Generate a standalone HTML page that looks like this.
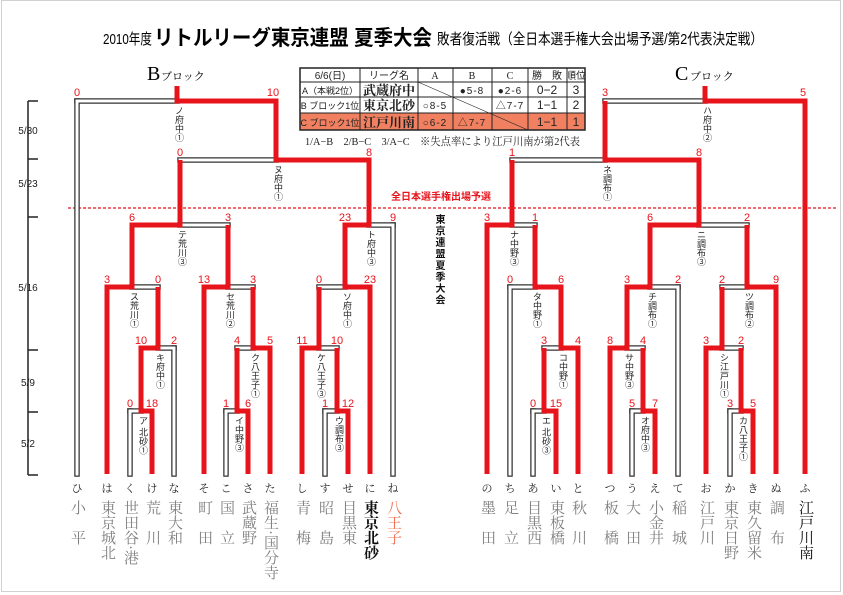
<!DOCTYPE html>
<html><head><meta charset="utf-8"><style>
html,body{margin:0;padding:0;background:#fff}
#w{position:relative;width:843px;height:595px;overflow:hidden;font-family:"Liberation Sans","Noto Sans CJK JP",sans-serif}
.k{position:absolute;top:480px;width:20px;margin-left:-10px;text-align:center;font-size:11px;color:#222;font-family:"Liberation Serif","Noto Serif CJK SC",serif}
.n{position:absolute;top:500px;writing-mode:vertical-rl;font-size:15px;line-height:15px;width:15px;margin-left:-8px;color:#808080;font-family:"Liberation Serif","Noto Serif CJK SC",serif}
.ml{position:absolute;writing-mode:vertical-rl;font-size:9px;line-height:10px;width:10px;margin-left:-3px;color:#222}
</style></head><body><div id="w">
<svg width="843" height="595" style="position:absolute;left:0;top:0" xmlns="http://www.w3.org/2000/svg">
<rect x="1.5" y="0.5" width="839" height="591" fill="none" stroke="#d0d0d0"/>
<text x="103" y="44" font-size="15" textLength="49" lengthAdjust="spacingAndGlyphs" font-family="Liberation Sans,Noto Sans CJK JP,sans-serif">2010年度</text>
<text x="154" y="45" font-size="21" font-weight="bold" textLength="278" lengthAdjust="spacingAndGlyphs" font-family="Liberation Sans,Noto Sans CJK JP,sans-serif">リトルリーグ東京連盟 夏季大会</text>
<text x="437" y="44" font-size="15" textLength="326" lengthAdjust="spacingAndGlyphs" font-family="Liberation Sans,Noto Sans CJK JP,sans-serif">敗者復活戦（全日本選手権大会出場予選/第2代表決定戦）</text>
<text x="147" y="80" font-size="20" font-family="Liberation Serif,serif">B</text><text x="161" y="80" font-size="11" font-family="Noto Serif CJK SC,serif">ブロック</text>
<text x="675" y="80" font-size="20" font-family="Liberation Serif,serif">C</text><text x="690" y="80" font-size="11" font-family="Noto Serif CJK SC,serif">ブロック</text>
<!-- table -->
<rect x="300" y="113" width="285" height="17" fill="#f08060"/>
<g stroke="#222" stroke-width="1" fill="none">
<rect x="300" y="68" width="285" height="62" stroke-width="1.5"/>
<path d="M300 82H585M300 97H585M300 113H585M360 68V130M418 68V130M453 68V130M492 68V130M528 68V130M567 68V130"/>
<path d="M418 82L528 130" stroke-width="0.6"/>
</g>
<g font-size="10" fill="#222" text-anchor="middle" font-family="Liberation Sans,Noto Sans CJK JP,sans-serif">
<text x="330" y="79">6/6(日)</text><text x="389" y="79">リーグ名</text><text x="435" y="79" font-family="Liberation Serif,serif">A</text><text x="472" y="79" font-family="Liberation Serif,serif">B</text><text x="510" y="79" font-family="Liberation Serif,serif">C</text><text x="547" y="79">勝　敗</text><text x="576" y="79">順位</text>
<text x="330" y="94" font-size="9">A（本戦2位）</text><text x="330" y="109" font-size="9">B ブロック1位</text><text x="330" y="126" font-size="9">C ブロック1位</text>
<text x="389" y="95" font-size="13" font-weight="bold" font-family="Noto Serif CJK SC,serif">武蔵府中</text>
<text x="389" y="110" font-size="13" font-weight="bold" font-family="Noto Serif CJK SC,serif">東京北砂</text>
<text x="389" y="127" font-size="13" font-weight="bold" font-family="Noto Serif CJK SC,serif">江戸川南</text>
<text x="472" y="94" letter-spacing="1">●5-8</text><text x="510" y="94" letter-spacing="1">●2-6</text><text x="547" y="94" font-size="12">0−2</text><text x="576" y="94" font-size="12">3</text>
<text x="435" y="109" letter-spacing="1">○8-5</text><text x="510" y="109" letter-spacing="1">△7-7</text><text x="547" y="109" font-size="12">1−1</text><text x="576" y="109" font-size="12">2</text>
<text x="435" y="126" letter-spacing="1">○6-2</text><text x="472" y="126" letter-spacing="1">△7-7</text><text x="547" y="126" font-size="12">1−1</text><text x="576" y="126" font-size="12">1</text>
</g>
<text x="305" y="145" font-size="11" fill="#222" textLength="275" lengthAdjust="spacingAndGlyphs" font-family="Liberation Serif,Noto Serif CJK SC,serif">1/A−B　2/B−C　3/A−C　※失点率により江戸川南が第2代表</text>
<!-- timeline -->
<g stroke="#222" stroke-width="1.5"><path d="M28 101V475M28 101H38M28 159H38M28 217H38M28 350H38M28 412H38M28 475H38"/></g>
<g font-size="10" fill="#222" text-anchor="middle"><text x="28" y="134">5/30</text><text x="28" y="187">5/23</text><text x="28" y="291">5/16</text><text x="28" y="386">5/9</text><text x="28" y="447">5/2</text></g>
<!-- dashed -->
<path d="M68 208H838" stroke="#e8141c" stroke-width="1.2" stroke-dasharray="3,2"/>
<text x="441" y="200" font-size="10" font-weight="bold" fill="#e8141c" text-anchor="middle">全日本選手権出場予選</text>
<!-- loser lines -->
<defs><g id="wl">
<path d="M77 101V474M130 411V474M174 348V474M226 411V474M325 411V474M393 225V474M510 287V474M533 411V474M632 411V474M678 287V474M730 411V474"/>
<path d="M130 411H141M158 348H174M132 287H158M226 411H237M237 348H253M228 287H253M180 225H228M325 411H337M319 348H337M319 287H345M369 225H393M180 160H276M77 101H177"/>
<path d="M533 411H544M544 348H561M510 287H535M512 225H535M632 411H643M627 348H643M650 287H678M730 411H741M722 348H741M722 287H747M699 225H747M512 160H605M605 101H705"/>
</g></defs>
<use href="#wl" stroke="#333" stroke-width="5.5" fill="none" stroke-linecap="square"/>
<use href="#wl" stroke="#fff" stroke-width="3" fill="none" stroke-linecap="square"/>
<!-- winner lines -->
<g stroke="#e8141c" stroke-width="5" fill="none" stroke-linejoin="miter">
<path d="M152 474V411H141V348H158V287"/>
<path d="M107 474V287H132V225H180V160"/>
<path d="M248 474V411H237V348"/>
<path d="M270 474V348H253V287"/>
<path d="M204 474V287H228V225"/>
<path d="M348 474V411H337V348"/>
<path d="M302 474V348H319V287"/>
<path d="M370 474V287H345V225H369V160H276V101H177V86"/>
<path d="M556 474V411H544V348"/>
<path d="M578 474V348H561V287H535V225"/>
<path d="M487 474V225H512V160"/>
<path d="M655 474V411H643V348"/>
<path d="M610 474V348H627V287H650V225H699V160H605V101"/>
<path d="M753 474V411H741V348"/>
<path d="M706 474V348H722V287"/>
<path d="M776 474V287H747V225"/>
<path d="M805 474V101H705V86"/>
</g>
<!-- scores -->
<g font-size="11" fill="#e8141c" text-anchor="middle">
<text x="130" y="407">0</text><text x="152" y="407">18</text>
<text x="141" y="344">10</text><text x="174" y="344">2</text>
<text x="107" y="283">3</text><text x="158" y="283">0</text>
<text x="226" y="407">1</text><text x="248" y="407">6</text>
<text x="237" y="344">4</text><text x="270" y="344">5</text>
<text x="204" y="283">13</text><text x="253" y="283">3</text>
<text x="132" y="221">6</text><text x="228" y="221">3</text>
<text x="325" y="407">1</text><text x="348" y="407">12</text>
<text x="302" y="344">11</text><text x="337" y="344">10</text>
<text x="319" y="283">0</text><text x="370" y="283">23</text>
<text x="345" y="221">23</text><text x="393" y="221">9</text>
<text x="180" y="156">0</text><text x="369" y="156">8</text>
<text x="77" y="96">0</text><text x="273" y="96">10</text>
<text x="533" y="407">0</text><text x="556" y="407">15</text>
<text x="544" y="344">3</text><text x="578" y="344">4</text>
<text x="510" y="283">0</text><text x="561" y="283">6</text>
<text x="487" y="221">3</text><text x="535" y="221">1</text>
<text x="632" y="407">5</text><text x="655" y="407">7</text>
<text x="610" y="344">8</text><text x="643" y="344">4</text>
<text x="627" y="283">3</text><text x="678" y="283">2</text>
<text x="730" y="407">3</text><text x="753" y="407">5</text>
<text x="706" y="344">3</text><text x="741" y="344">2</text>
<text x="722" y="283">2</text><text x="776" y="283">9</text>
<text x="650" y="221">6</text><text x="747" y="221">2</text>
<text x="512" y="156">1</text><text x="699" y="156">8</text>
<text x="605" y="96">3</text><text x="803" y="96">5</text>
</g>
</svg>
<div style="position:absolute;left:433px;top:214px;writing-mode:vertical-rl;font-size:10px;line-height:11px;letter-spacing:1.5px;font-weight:bold;color:#111">東京連盟夏季大会</div>
<!-- match labels -->
<div class="ml" style="left:141px;top:416px">ア 北砂①</div>
<div class="ml" style="left:158px;top:353px">キ府中①</div>
<div class="ml" style="left:132px;top:292px">ス荒川①</div>
<div class="ml" style="left:237px;top:416px">イ中野③</div>
<div class="ml" style="left:253px;top:353px">ク八王子①</div>
<div class="ml" style="left:228px;top:292px">セ荒川②</div>
<div class="ml" style="left:180px;top:230px">テ荒川③</div>
<div class="ml" style="left:337px;top:416px">ウ調布③</div>
<div class="ml" style="left:319px;top:353px">ケ八王子③</div>
<div class="ml" style="left:345px;top:292px">ソ府中①</div>
<div class="ml" style="left:369px;top:230px">ト府中③</div>
<div class="ml" style="left:276px;top:165px">ヌ府中①</div>
<div class="ml" style="left:177px;top:106px">ノ府中①</div>
<div class="ml" style="left:544px;top:416px">エ 北砂③</div>
<div class="ml" style="left:561px;top:353px">コ中野①</div>
<div class="ml" style="left:535px;top:292px">タ中野①</div>
<div class="ml" style="left:512px;top:230px">ナ中野③</div>
<div class="ml" style="left:643px;top:416px">オ府中③</div>
<div class="ml" style="left:627px;top:353px">サ中野③</div>
<div class="ml" style="left:650px;top:292px">チ調布①</div>
<div class="ml" style="left:741px;top:416px">カ八王子①</div>
<div class="ml" style="left:722px;top:353px">シ江戸川①</div>
<div class="ml" style="left:747px;top:292px">ツ調布②</div>
<div class="ml" style="left:699px;top:230px">ニ調布③</div>
<div class="ml" style="left:605px;top:165px">ネ調布①</div>
<div class="ml" style="left:705px;top:106px">ハ府中②</div>
<!-- leaves -->
<div class="k" style="left:77px">ひ</div><div class="n" style="left:77px">小　平</div>
<div class="k" style="left:107px">は</div><div class="n" style="left:107px">東京城北</div>
<div class="k" style="left:130px">く</div><div class="n" style="left:130px">世田谷·港</div>
<div class="k" style="left:152px">け</div><div class="n" style="left:152px">荒　川</div>
<div class="k" style="left:174px">な</div><div class="n" style="left:174px">東大和</div>
<div class="k" style="left:204px">そ</div><div class="n" style="left:204px">町　田</div>
<div class="k" style="left:226px">こ</div><div class="n" style="left:226px">国　立</div>
<div class="k" style="left:248px">さ</div><div class="n" style="left:248px">武蔵野</div>
<div class="k" style="left:270px">た</div><div class="n" style="left:270px">福生·国分寺</div>
<div class="k" style="left:302px">し</div><div class="n" style="left:302px">青　梅</div>
<div class="k" style="left:325px">す</div><div class="n" style="left:325px">昭　島</div>
<div class="k" style="left:348px">せ</div><div class="n" style="left:348px">目黒東</div>
<div class="k" style="left:370px">に</div><div class="n" style="left:370px;color:#111;font-weight:bold">東京北砂</div>
<div class="k" style="left:393px">ね</div><div class="n" style="left:393px;color:#f07050">八王子</div>
<div class="k" style="left:487px">の</div><div class="n" style="left:487px">墨　田</div>
<div class="k" style="left:510px">ち</div><div class="n" style="left:510px">足　立</div>
<div class="k" style="left:533px">あ</div><div class="n" style="left:533px">目黒西</div>
<div class="k" style="left:556px">い</div><div class="n" style="left:556px">東板橋</div>
<div class="k" style="left:578px">と</div><div class="n" style="left:578px">秋　川</div>
<div class="k" style="left:610px">つ</div><div class="n" style="left:610px">板　橋</div>
<div class="k" style="left:632px">う</div><div class="n" style="left:632px">大　田</div>
<div class="k" style="left:655px">え</div><div class="n" style="left:655px">小金井</div>
<div class="k" style="left:678px">て</div><div class="n" style="left:678px">稲　城</div>
<div class="k" style="left:706px">お</div><div class="n" style="left:706px">江戸川</div>
<div class="k" style="left:730px">か</div><div class="n" style="left:730px">東京日野</div>
<div class="k" style="left:753px">き</div><div class="n" style="left:753px">東久留米</div>
<div class="k" style="left:776px">ぬ</div><div class="n" style="left:776px">調　布</div>
<div class="k" style="left:805px">ふ</div><div class="n" style="left:805px;color:#111">江戸川南</div>
</div></body></html>
